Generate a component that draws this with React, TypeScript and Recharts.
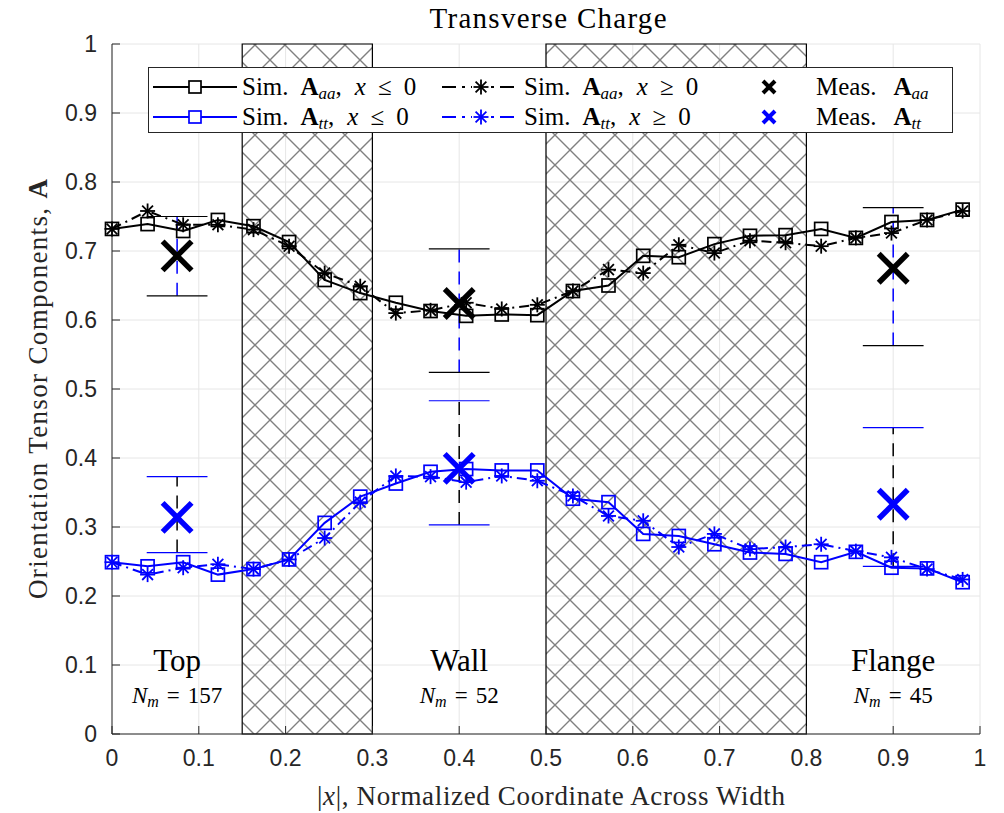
import React from 'react';
import {
  ComposedChart,
  Line,
  Scatter,
  XAxis,
  YAxis,
  CartesianGrid,
  ReferenceArea,
  ReferenceLine,
  ReferenceDot,
  Legend,
  Label,
} from 'recharts';

// simulated points across the normalized width
const xPos = [
  0, 0.041, 0.082, 0.122, 0.163, 0.204, 0.245, 0.286, 0.327, 0.367, 0.408, 0.449, 0.49,
  0.531, 0.572, 0.612, 0.653, 0.694, 0.735, 0.776, 0.817, 0.857, 0.898, 0.939, 0.98,
];
const aaaNeg = [
  0.732, 0.739, 0.729, 0.745, 0.736, 0.713, 0.658, 0.639, 0.625, 0.613, 0.606, 0.608, 0.607,
  0.642, 0.65, 0.693, 0.691, 0.71, 0.722, 0.723, 0.732, 0.719, 0.742, 0.745, 0.76,
];
const aaaPos = [
  0.732, 0.758, 0.738, 0.738, 0.731, 0.707, 0.668, 0.649, 0.61, 0.614, 0.625, 0.616, 0.622,
  0.642, 0.673, 0.668, 0.709, 0.697, 0.715, 0.712, 0.707, 0.719, 0.726, 0.745, 0.758,
];
const attNeg = [
  0.249, 0.243, 0.249, 0.231, 0.239, 0.253, 0.306, 0.344, 0.363, 0.38, 0.384, 0.382, 0.382,
  0.341, 0.336, 0.29, 0.287, 0.275, 0.263, 0.261, 0.249, 0.264, 0.241, 0.24, 0.22,
];
const attPos = [
  0.249, 0.231, 0.241, 0.246, 0.239, 0.253, 0.284, 0.336, 0.374, 0.373, 0.365, 0.374, 0.367,
  0.345, 0.316, 0.309, 0.271, 0.29, 0.268, 0.271, 0.275, 0.265, 0.256, 0.239, 0.224,
];

// measurements (Top, Wall, Flange)
const measX = [0.075, 0.4, 0.9];
const measAaa = [0.693, 0.624, 0.675];
const measAaaLo = [0.635, 0.524, 0.563];
const measAaaHi = [0.75, 0.703, 0.763];
const measAtt = [0.314, 0.385, 0.333];
const measAttLo = [0.263, 0.303, 0.243];
const measAttHi = [0.373, 0.483, 0.444];

const regionNames = ['Top', 'Wall', 'Flange'];
const regionCounts = [157, 52, 45];
const hatchFrom = [0.15, 0.5];
const hatchTo = [0.3, 0.8];
const ticks = [0, 0.1, 0.2, 0.3, 0.4, 0.5, 0.6, 0.7, 0.8, 0.9, 1];

const simData = xPos.map((x, i) => ({
  x,
  aaaNeg: aaaNeg[i],
  aaaPos: aaaPos[i],
  attNeg: attNeg[i],
  attPos: attPos[i],
}));
const measData = measX.map((x, i) => ({ x, aaa: measAaa[i], att: measAtt[i] }));

const BLUE = '#0000ff';
const AX = '#262626';
const SERIF = '"Liberation Serif", "Times New Roman", serif';
const SANS = '"Liberation Sans", Arial, sans-serif';
const CAP = 0.035;
const DASHDOT = '10 5 2 5';

const squareDot = (color: string) => (p: any) => {
  if (p.cx == null || p.cy == null) return <g key={p.key} />;
  return (
    <rect key={`s-${p.cx}-${p.cy}`} x={p.cx - 6.5} y={p.cy - 6.5} width={13} height={13}
      fill="none" stroke={color} strokeWidth={1.7} />
  );
};

const starGlyph = (cx: number, cy: number, color: string, r = 7.5) => {
  const d = r * 0.72;
  return (
    <g stroke={color} strokeWidth={1.8}>
      <line x1={cx - r} y1={cy} x2={cx + r} y2={cy} />
      <line x1={cx} y1={cy - r} x2={cx} y2={cy + r} />
      <line x1={cx - d} y1={cy - d} x2={cx + d} y2={cy + d} />
      <line x1={cx - d} y1={cy + d} x2={cx + d} y2={cy - d} />
    </g>
  );
};

const starDot = (color: string) => (p: any) => {
  if (p.cx == null || p.cy == null) return <g key={p.key} />;
  return <g key={`a-${p.cx}-${p.cy}`}>{starGlyph(p.cx, p.cy, color)}</g>;
};

const crossShape = (color: string) => (p: any) => {
  const { cx, cy } = p;
  const r = 14.5;
  return (
    <g stroke={color} strokeWidth={5.5}>
      <line x1={cx - r} y1={cy - r} x2={cx + r} y2={cy + r} />
      <line x1={cx - r} y1={cy + r} x2={cx + r} y2={cy - r} />
    </g>
  );
};

const regionLabel = (i: number) => (props: any) => {
  const vb = props.viewBox || {};
  const cx = vb.x + (vb.width || 0) / 2;
  const cy = vb.y + (vb.height || 0) / 2;
  return (
    <g fontFamily={SERIF} fill="#000">
      <text x={cx} y={cy + 6} textAnchor="middle" fontSize={31}>{regionNames[i]}</text>
      <text x={cx} y={cy + 38} textAnchor="middle" fontSize={23}>
        <tspan fontStyle="italic">N</tspan>
        <tspan fontStyle="italic" fontSize={16} dy={4}>m</tspan>
        <tspan dy={-4} dx={8}>=</tspan>
        <tspan dx={8}>{regionCounts[i]}</tspan>
      </text>
    </g>
  );
};

const yLabel = (props: any) => {
  const vb = props.viewBox;
  const y = vb.y + vb.height / 2;
  return (
    <text x={47} y={y} transform={`rotate(-90 47 ${y})`} textAnchor="middle"
      fontFamily={SERIF} fontSize={27} fill={AX} textLength={420} lengthAdjust="spacing">
      Orientation Tensor Components, <tspan fontWeight="bold">A</tspan>
    </text>
  );
};

const xLabel = (props: any) => {
  const vb = props.viewBox;
  const x = vb.x + vb.width / 2 + 5;
  return (
    <text x={x} y={805} textAnchor="middle" fontFamily={SERIF} fontSize={27} fill={AX}
      textLength={468} lengthAdjust="spacing">
      |<tspan fontStyle="italic">x</tspan>|, Normalized Coordinate Across Width
    </text>
  );
};

// legend drawn as one small svg, coordinates relative to the legend box
const legendRows = [
  { color: '#000', sub: 'aa', cy: 20 },
  { color: BLUE, sub: 'tt', cy: 50 },
];

const legendLabel = (x: number, y: number, prefix: string, sub: string, rel?: string) => (
  <text x={x} y={y} fontFamily={SERIF} fontSize={25} fill="#000">
    <tspan>{prefix}</tspan>
    <tspan dx={rel ? 12 : 17} fontWeight="bold">A</tspan>
    <tspan fontStyle="italic" fontSize={17} dy={4}>{sub}</tspan>
    {rel ? (
      <>
        <tspan dy={-4}>,</tspan>
        <tspan dx={13} fontStyle="italic">x</tspan>
        <tspan dx={12}>{rel}</tspan>
        <tspan dx={12}>0</tspan>
      </>
    ) : null}
  </text>
);

const LegendBox = () => (
  <svg width={805} height={66} style={{ display: 'block', overflow: 'visible' }}>
    <rect x={0.5} y={0.5} width={804} height={65} fill="#fff" stroke={AX} strokeWidth={1} />
    {legendRows.map((r) => (
      <g key={r.sub}>
        <line x1={5} y1={r.cy} x2={89} y2={r.cy} stroke={r.color} strokeWidth={2} />
        <rect x={41} y={r.cy - 6} width={12} height={12} fill="#fff" stroke={r.color} strokeWidth={1.7} />
        {legendLabel(94, r.cy + 8, 'Sim.', r.sub, '≤')}
        <line x1={294} y1={r.cy} x2={372} y2={r.cy} stroke={r.color} strokeWidth={2}
          strokeDasharray="14 6 3 6" />
        <rect x={324} y={r.cy - 8} width={18} height={16} fill="#fff" />
        {starGlyph(333, r.cy, r.color)}
        {legendLabel(376, r.cy + 8, 'Sim.', r.sub, '≥')}
        <g stroke={r.color} strokeWidth={4}>
          <line x1={615} y1={r.cy - 6} x2={627} y2={r.cy + 6} />
          <line x1={615} y1={r.cy + 6} x2={627} y2={r.cy - 6} />
        </g>
        {legendLabel(668, r.cy + 8, 'Meas.', r.sub)}
      </g>
    ))}
  </svg>
);

export default function App() {
  return (
    <div style={{ position: 'absolute', left: 0, top: 0, background: '#fff' }}>
      <ComposedChart width={1004} height={813} data={simData}
        margin={{ top: 44, right: 24, left: 0, bottom: 0 }}>
        <defs>
          <pattern id="hatch" width={30} height={30} patternUnits="userSpaceOnUse">
            <path d="M0,0 L30,30 M30,0 L0,30" stroke="#808080" strokeWidth={1.4} fill="none" />
          </pattern>
        </defs>
        <text x={548} y={28} textAnchor="middle" fontFamily={SERIF} fontSize={29} fill="#000"
          textLength={237} lengthAdjust="spacing">Transverse Charge</text>
        <CartesianGrid stroke="#e6e6e6" strokeWidth={1} />
        <XAxis dataKey="x" type="number" domain={[0, 1]} ticks={ticks} height={79}
          stroke={AX} tickSize={-8} tickMargin={24}
          tick={{ fontFamily: SANS, fontSize: 23, fill: AX }} tickFormatter={(v) => String(v)}
          label={<Label content={xLabel} />} />
        <XAxis xAxisId="top" orientation="top" type="number" domain={[0, 1]} ticks={ticks}
          height={0} stroke={AX} tickSize={-8} tick={false} />
        <YAxis type="number" domain={[0, 1]} ticks={ticks} width={112} stroke={AX}
          tickSize={-8} tickMargin={23}
          tick={{ fontFamily: SANS, fontSize: 23, fill: AX }} tickFormatter={(v) => String(v)}
          label={<Label content={yLabel} />} />
        <YAxis yAxisId="right" orientation="right" type="number" domain={[0, 1]} ticks={ticks}
          width={0} stroke={AX} tickSize={-8} tick={false} />

        {hatchFrom.map((x1, i) => (
          <ReferenceArea key={`h${i}`} x1={x1} x2={hatchTo[i]} y1={0} y2={1}
            fill="url(#hatch)" fillOpacity={1} stroke="#000" strokeWidth={1.2} />
        ))}

        {measX.map((x, i) => (
          <React.Fragment key={`eb${i}`}>
            <ReferenceLine segment={[{ x, y: measAaaLo[i] }, { x, y: measAaaHi[i] }]}
              stroke={BLUE} strokeWidth={1.5} strokeDasharray="13 9" />
            <ReferenceLine segment={[{ x: x - CAP, y: measAaaLo[i] }, { x: x + CAP, y: measAaaLo[i] }]}
              stroke="#000" strokeWidth={1.2} />
            <ReferenceLine segment={[{ x: x - CAP, y: measAaaHi[i] }, { x: x + CAP, y: measAaaHi[i] }]}
              stroke="#000" strokeWidth={1.2} />
            <ReferenceLine segment={[{ x, y: measAttLo[i] }, { x, y: measAttHi[i] }]}
              stroke="#000" strokeWidth={1.5} strokeDasharray="13 9" />
            <ReferenceLine segment={[{ x: x - CAP, y: measAttLo[i] }, { x: x + CAP, y: measAttLo[i] }]}
              stroke={BLUE} strokeWidth={1.2} />
            <ReferenceLine segment={[{ x: x - CAP, y: measAttHi[i] }, { x: x + CAP, y: measAttHi[i] }]}
              stroke={BLUE} strokeWidth={1.2} />
          </React.Fragment>
        ))}

        {measX.map((x, i) => (
          <ReferenceDot key={`rl${i}`} x={x} y={0.1} r={1} fill="none" stroke="none"
            label={<Label content={regionLabel(i)} />} />
        ))}

        <Line dataKey="aaaNeg" stroke="#000" strokeWidth={2} dot={squareDot('#000')}
          isAnimationActive={false} />
        <Line dataKey="aaaPos" stroke="#000" strokeWidth={2} strokeDasharray={DASHDOT}
          dot={starDot('#000')} isAnimationActive={false} />
        <Line dataKey="attNeg" stroke={BLUE} strokeWidth={2} dot={squareDot(BLUE)}
          isAnimationActive={false} />
        <Line dataKey="attPos" stroke={BLUE} strokeWidth={2} strokeDasharray={DASHDOT}
          dot={starDot(BLUE)} isAnimationActive={false} />

        <Scatter data={measData} dataKey="aaa" shape={crossShape('#000')} isAnimationActive={false} />
        <Scatter data={measData} dataKey="att" shape={crossShape(BLUE)} isAnimationActive={false} />

        <Legend layout="horizontal" verticalAlign="middle" align="center" content={() => <LegendBox />}
          wrapperStyle={{ left: 148, top: 67, width: 805, height: 66 }} />
      </ComposedChart>
    </div>
  );
}
